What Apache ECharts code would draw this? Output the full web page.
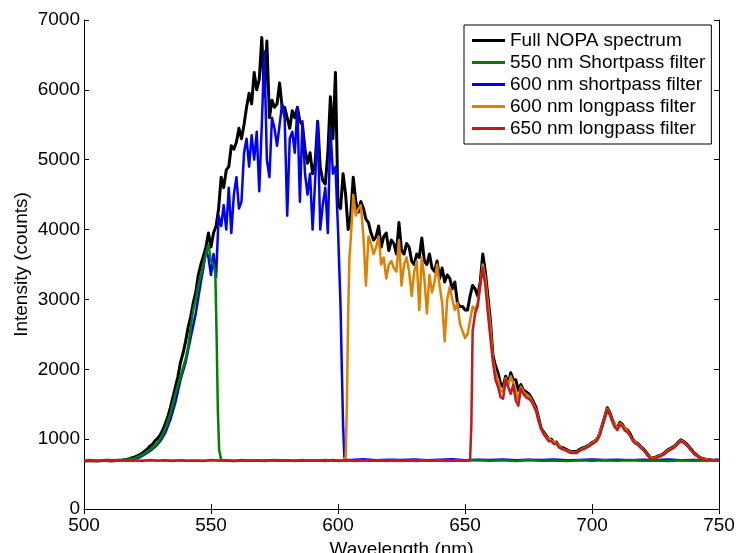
<!DOCTYPE html>
<html>
<head>
<meta charset="utf-8">
<script src="https://cdn.jsdelivr.net/npm/echarts@6/dist/echarts.min.js"></script>
<style>
  html, body { margin: 0; padding: 0; background: #fff; }
  #main { width: 736px; height: 553px; }
</style>
</head>
<body>
<div id="main"></div>
<script>
// [wavelength nm, counts]
const fullSpectrum = [
  [500,688],[503,695],[506,690],[509,697],[512,693],[515,700],[516,705],[517,712],[518,720],[519,735],
  [520,745],[521,760],[522,780],[523,800],[524,830],[525,860],[526,900],[527,930],[528,980],[529,1010],
  [530,1060],[531,1130],[532,1220],[533,1320],[534,1450],[535,1600],[536,1750],[537,1900],[538,2100],[539,2230],
  [540,2400],[541,2600],[542,2750],[543,2950],[544,3100],[545,3350],[546,3500],[547,3620],[548,3750],[549,3950],
  [550,3750],[551,3950],[552,4050],[553,4300],[554,4750],[555,4600],[556,4850],[557,4900],[558,5200],[559,5150],
  [560,5250],[561,5450],[562,5300],[563,5500],[564,5750],[565,5950],[566,5800],[567,6250],[568,6000],[569,6150],
  [570,6750],[571,5900],[572,6700],[573,5600],[574,5850],[575,5750],[576,5800],[577,6100],[578,5750],[579,5750],
  [580,5600],[581,5450],[582,5700],[583,5600],[584,5750],[585,5550],[586,5500],[587,5150],[588,4950],[589,5100],
  [590,4800],[591,4950],[592,5550],[593,4900],[594,4700],[595,4650],[596,5100],[597,5900],[598,5300],[599,6250],
  [600,4350],[601,4300],[602,4800],[603,4500],[604,4000],[605,4200],[606,4750],[607,4400],[608,4250],[609,4400],
  [610,4300],[611,4150],[612,4100],[613,3950],[614,3850],[615,3900],[616,4050],[617,3750],[618,3900],[619,3950],
  [620,3700],[621,3850],[622,3800],[623,3650],[624,4100],[625,3700],[626,3650],[627,3800],[628,3750],[629,3550],
  [630,3500],[631,3650],[632,3600],[633,3880],[634,3550],[635,3500],[636,3650],[637,3450],[638,3400],[639,3550],
  [640,3300],[641,3450],[642,3250],[643,3350],[644,3300],[645,3150],[646,3250],[647,2950],[648,2900],[649,2900],
  [650,2850],[651,2850],[652,3050],[653,3200],[654,3150],[655,3050],[656,3250],[657,3650],[658,3400],[659,3050],
  [660,2700],[661,2200],[662,2050],[663,1950],[664,1800],[665,1750],[666,1900],[667,1800],[668,1950],[669,1850],
  [670,1850],[671,1700],[672,1780],[673,1700],[674,1680],[675,1650],[676,1600],[677,1530],[678,1450],[679,1300],
  [680,1150],[681,1100],[682,1050],[683,1000],[684,1000],[685,950],[686,960],[687,900],[688,880],[689,870],
  [690,850],[691,830],[692,820],[693,825],[694,820],[695,850],[696,870],[697,880],[698,900],[699,920],
  [700,950],[701,970],[702,1000],[703,1080],[704,1200],[705,1320],[706,1450],[707,1380],[708,1280],[709,1200],
  [710,1160],[711,1240],[712,1210],[713,1150],[714,1130],[715,1080],[716,1000],[717,960],[718,940],[719,900],
  [720,870],[721,830],[722,780],[723,740],[724,730],[725,740],[726,760],[727,770],[728,790],[729,820],
  [730,850],[731,870],[732,890],[733,920],[734,960],[735,990],[736,970],[737,940],[738,900],[739,860],
  [740,810],[741,780],[742,750],[743,730],[744,720],[745,710],[746,705],[747,700],[748,695],[749,700],[750,695]
];

const shortpass550 = [
  [500,690],[505,686],[510,694],[515,698],[518,712],[520,730],[522,760],[524,800],[526,850],[528,910],
  [530,1000],[532,1150],[534,1370],[536,1650],[538,1900],[540,2150],[541,2330],[542,2600],[543,2850],[544,3000],
  [545,3200],[546,3350],[547,3500],[548,3650],[549,3780],[550,3550],[551,3500],[551.7,3380],[552.2,2500],[552.7,1400],
  [553.2,850],[554,700],[556,692],[560,688],[565,696],[570,690],[575,700],[580,689],[585,695],[590,692],
  [595,700],[600,688],[605,694],[610,698],[615,690],[620,696],[625,688],[630,700],[635,692],[640,697],
  [645,689],[650,695],[655,700],[660,690],[665,697],[670,688],[675,702],[680,692],[685,696],[690,688],
  [695,699],[700,692],[705,697],[710,690],[715,700],[720,692],[725,696],[730,688],[735,698],[740,692],
  [745,697],[750,690]
];

const shortpass600 = [
  [500,692],[505,698],[510,688],[515,696],[518,708],[520,720],[522,740],[524,785],[526,830],[528,890],
  [530,970],[532,1090],[534,1280],[536,1530],[538,1850],[540,2100],[542,2450],[544,2800],[546,3250],[547,3450],
  [548,3700],[549,3600],[550,3350],[551,3650],[552,3320],[553,4200],[554,4050],[555,4350],[556,4000],[557,4600],
  [558,3950],[559,4500],[560,4750],[561,4300],[562,4400],[563,5100],[564,5300],[565,4900],[566,5350],[567,5000],
  [568,5400],[569,4550],[570,5500],[571,6550],[572,5000],[573,4750],[574,5600],[575,5450],[576,5200],[577,5500],
  [578,5800],[579,5600],[580,4200],[581,5300],[582,5400],[583,5100],[584,5750],[585,4400],[586,5550],[587,4800],
  [588,4500],[589,4800],[590,4000],[591,4700],[592,5550],[593,4000],[594,4350],[595,4600],[596,3950],[597,5450],
  [598,4800],[599,4900],[600,4000],[601,2900],[601.5,2000],[602,1200],[602.5,740],[603,705],[605,700],[610,712],
  [615,698],[620,706],[625,700],[630,710],[635,699],[640,705],[645,712],[650,698],[655,705],[660,700],
  [665,708],[670,697],[675,704],[680,700],[685,709],[690,698],[695,703],[700,710],[705,700],[710,706],
  [715,698],[720,704],[725,700],[730,708],[735,699],[740,703],[745,697],[750,702]
];

const longpass600 = [
  [500,692],[505,697],[510,690],[515,695],[520,688],[525,698],[530,692],[535,697],[540,689],[545,696],
  [550,693],[555,700],[560,690],[565,695],[570,698],[575,689],[580,696],[585,692],[590,699],[595,690],
  [600,695],[602,700],[603,740],[603.5,1500],[604,2800],[604.5,3600],[605,3850],[606,4500],[607,4200],[608,4300],
  [609,4350],[610,3900],[611,3200],[612,3900],[613,3800],[614,3650],[615,3750],[616,3900],[617,3500],[618,3600],
  [619,3300],[620,3500],[621,3550],[622,3450],[623,3400],[624,3850],[625,3200],[626,3500],[627,3600],[628,3400],
  [629,3050],[630,3400],[631,3550],[632,2850],[633,3600],[634,3300],[635,2800],[636,3350],[637,3100],[638,3250],
  [639,3500],[640,3200],[641,2950],[642,2400],[643,3000],[644,3180],[645,3000],[646,2850],[647,2950],[648,2650],
  [649,2550],[650,2450],[651,2500],[652,2700],[653,2900],[654,2850],[655,2950],[656,3200],[657,3500],[658,3300],
  [659,2950],[660,2600],[661,2150],[662,1950],[663,1850],[664,1700],[665,1680],[666,1870],[667,1770],[668,1900],
  [669,1800],[670,1700],[671,1560],[672,1750],[673,1680],[674,1640],[675,1620],[676,1570],[677,1500],[678,1420],
  [679,1270],[680,1140],[682,1030],[684,980],[686,945],[688,868],[690,838],[692,808],[694,808],[696,858],
  [698,890],[700,940],[702,990],[704,1185],[706,1435],[707,1365],[708,1265],[710,1145],[711,1225],[712,1195],
  [714,1115],[716,990],[718,930],[720,860],[722,770],[724,722],[726,752],[728,782],[730,840],[732,880],
  [734,950],[735,980],[736,960],[738,890],[740,800],[742,745],[744,715],[746,702],[748,693],[750,692]
];

const longpass650 = [
  [500,690],[502,700],[505,688],[508,697],[511,685],[514,699],[517,690],[520,696],[523,686],[526,701],
  [529,691],[532,697],[535,687],[538,699],[541,690],[544,695],[547,686],[550,700],[553,692],[556,697],
  [559,688],[562,701],[565,690],[568,696],[571,687],[574,699],[577,692],[580,697],[583,686],[586,700],
  [589,691],[592,696],[595,688],[598,700],[601,690],[604,697],[607,686],[610,699],[613,692],[616,697],
  [619,687],[622,700],[625,690],[628,696],[631,688],[634,699],[637,691],[640,697],[643,686],[646,700],
  [649,690],[651,693],[652,700],[652.5,1200],[653,2550],[654,2800],[655,2900],[656,3200],[657,3450],[658,3200],
  [659,2800],[660,2450],[661,2100],[662,1850],[663,1750],[664,1600],[665,1580],[666,1850],[667,1750],[668,1650],
  [669,1780],[670,1550],[671,1480],[672,1720],[673,1650],[674,1600],[675,1580],[676,1550],[677,1480],[678,1400],
  [679,1250],[680,1150],[681,1070],[682,1020],[683,970],[684,970],[685,930],[686,935],[687,880],[688,860],
  [689,850],[690,830],[691,810],[692,800],[693,805],[694,800],[695,830],[696,850],[697,860],[698,880],
  [699,900],[700,930],[701,950],[702,980],[703,1050],[704,1170],[705,1290],[706,1420],[707,1350],[708,1250],
  [709,1170],[710,1130],[711,1210],[712,1180],[713,1120],[714,1100],[715,1050],[716,980],[717,940],[718,920],
  [719,880],[720,850],[721,810],[722,760],[723,725],[724,715],[725,725],[726,745],[727,755],[728,775],
  [729,800],[730,830],[731,850],[732,870],[733,900],[734,940],[735,970],[736,950],[737,920],[738,880],
  [739,840],[740,795],[741,765],[742,740],[743,720],[744,710],[745,700],[746,698],[747,695],[748,692],
  [749,695],[750,690]
];

const seriesNames = [
  'Full NOPA spectrum',
  '550 nm Shortpass filter',
  '600 nm shortpass filter',
  '600 nm longpass filter',
  '650 nm longpass filter'
];

const font = 'Liberation Sans, Arial, Helvetica, sans-serif';

const chart = echarts.init(document.getElementById('main'), null, { renderer: 'canvas' });

function lineSeries(name, data, color, width, z) {
  return {
    name: name,
    type: 'line',
    data: data,
    symbol: 'none',
    showSymbol: false,
    z: z,
    lineStyle: { color: color, width: width, join: 'round' },
    itemStyle: { color: color },
    emphasis: { disabled: true }
  };
}

const axisLineStyle = { lineStyle: { color: '#000', width: 1 } };
const plainNumber = function (v) { return String(v); };

const option = {
  animation: false,
  backgroundColor: '#fff',
  grid: { left: 84, right: 17, top: 20, bottom: 44, outerBoundsMode: 'none' },
  legend: {
    data: seriesNames,
    orient: 'vertical',
    left: 464,
    top: 25,
    padding: [6, 6, 6, 8],
    itemGap: 3,
    itemWidth: 33,
    itemHeight: 3,
    icon: 'rect',
    selectedMode: false,
    backgroundColor: '#fff',
    borderColor: '#000',
    borderWidth: 1,
    textStyle: { fontFamily: font, fontSize: 19, color: '#000', lineHeight: 19 }
  },
  xAxis: [
    {
      type: 'value', min: 500, max: 750, interval: 50,
      name: 'Wavelength (nm)', nameLocation: 'middle', nameGap: 25,
      nameTextStyle: { fontFamily: font, fontSize: 19, color: '#000' },
      axisLine: axisLineStyle,
      axisTick: { inside: true, length: 5, lineStyle: { color: '#000' } },
      axisLabel: { fontFamily: font, fontSize: 19, color: '#000', margin: 7, formatter: plainNumber },
      splitLine: { show: false }
    },
    {
      type: 'value', min: 500, max: 750, interval: 50, position: 'top',
      axisLine: axisLineStyle,
      axisTick: { inside: true, length: 5, lineStyle: { color: '#000' } },
      axisLabel: { show: false },
      splitLine: { show: false }
    }
  ],
  yAxis: [
    {
      type: 'value', min: 0, max: 7000, interval: 1000,
      name: 'Intensity (counts)', nameLocation: 'middle', nameGap: 53, nameMoveOverlap: false,
      nameTextStyle: { fontFamily: font, fontSize: 19, color: '#000' },
      axisLine: { show: true, lineStyle: { color: '#000', width: 1 } },
      axisTick: { show: true, inside: true, length: 5, lineStyle: { color: '#000' } },
      axisLabel: { fontFamily: font, fontSize: 19, color: '#000', margin: 4, formatter: plainNumber },
      splitLine: { show: false }
    },
    {
      type: 'value', min: 0, max: 7000, interval: 1000, position: 'right',
      axisLine: { show: true, lineStyle: { color: '#000', width: 1 } },
      axisTick: { show: true, inside: true, length: 5, lineStyle: { color: '#000' } },
      axisLabel: { show: false },
      splitLine: { show: false }
    }
  ],
  series: [
    lineSeries(seriesNames[0], fullSpectrum, '#000000', 3, 2),
    lineSeries(seriesNames[2], shortpass600, '#0000ff', 2.5, 3),
    lineSeries(seriesNames[3], longpass600, '#e08000', 2.5, 4),
    lineSeries(seriesNames[1], shortpass550, '#008000', 2.5, 5),
    lineSeries(seriesNames[4], longpass650, '#c41a1e', 2.5, 6)
  ]
};

chart.setOption(option);
window.addEventListener('resize', function () {
  chart.resize();
});
</script>
</body>
</html>
